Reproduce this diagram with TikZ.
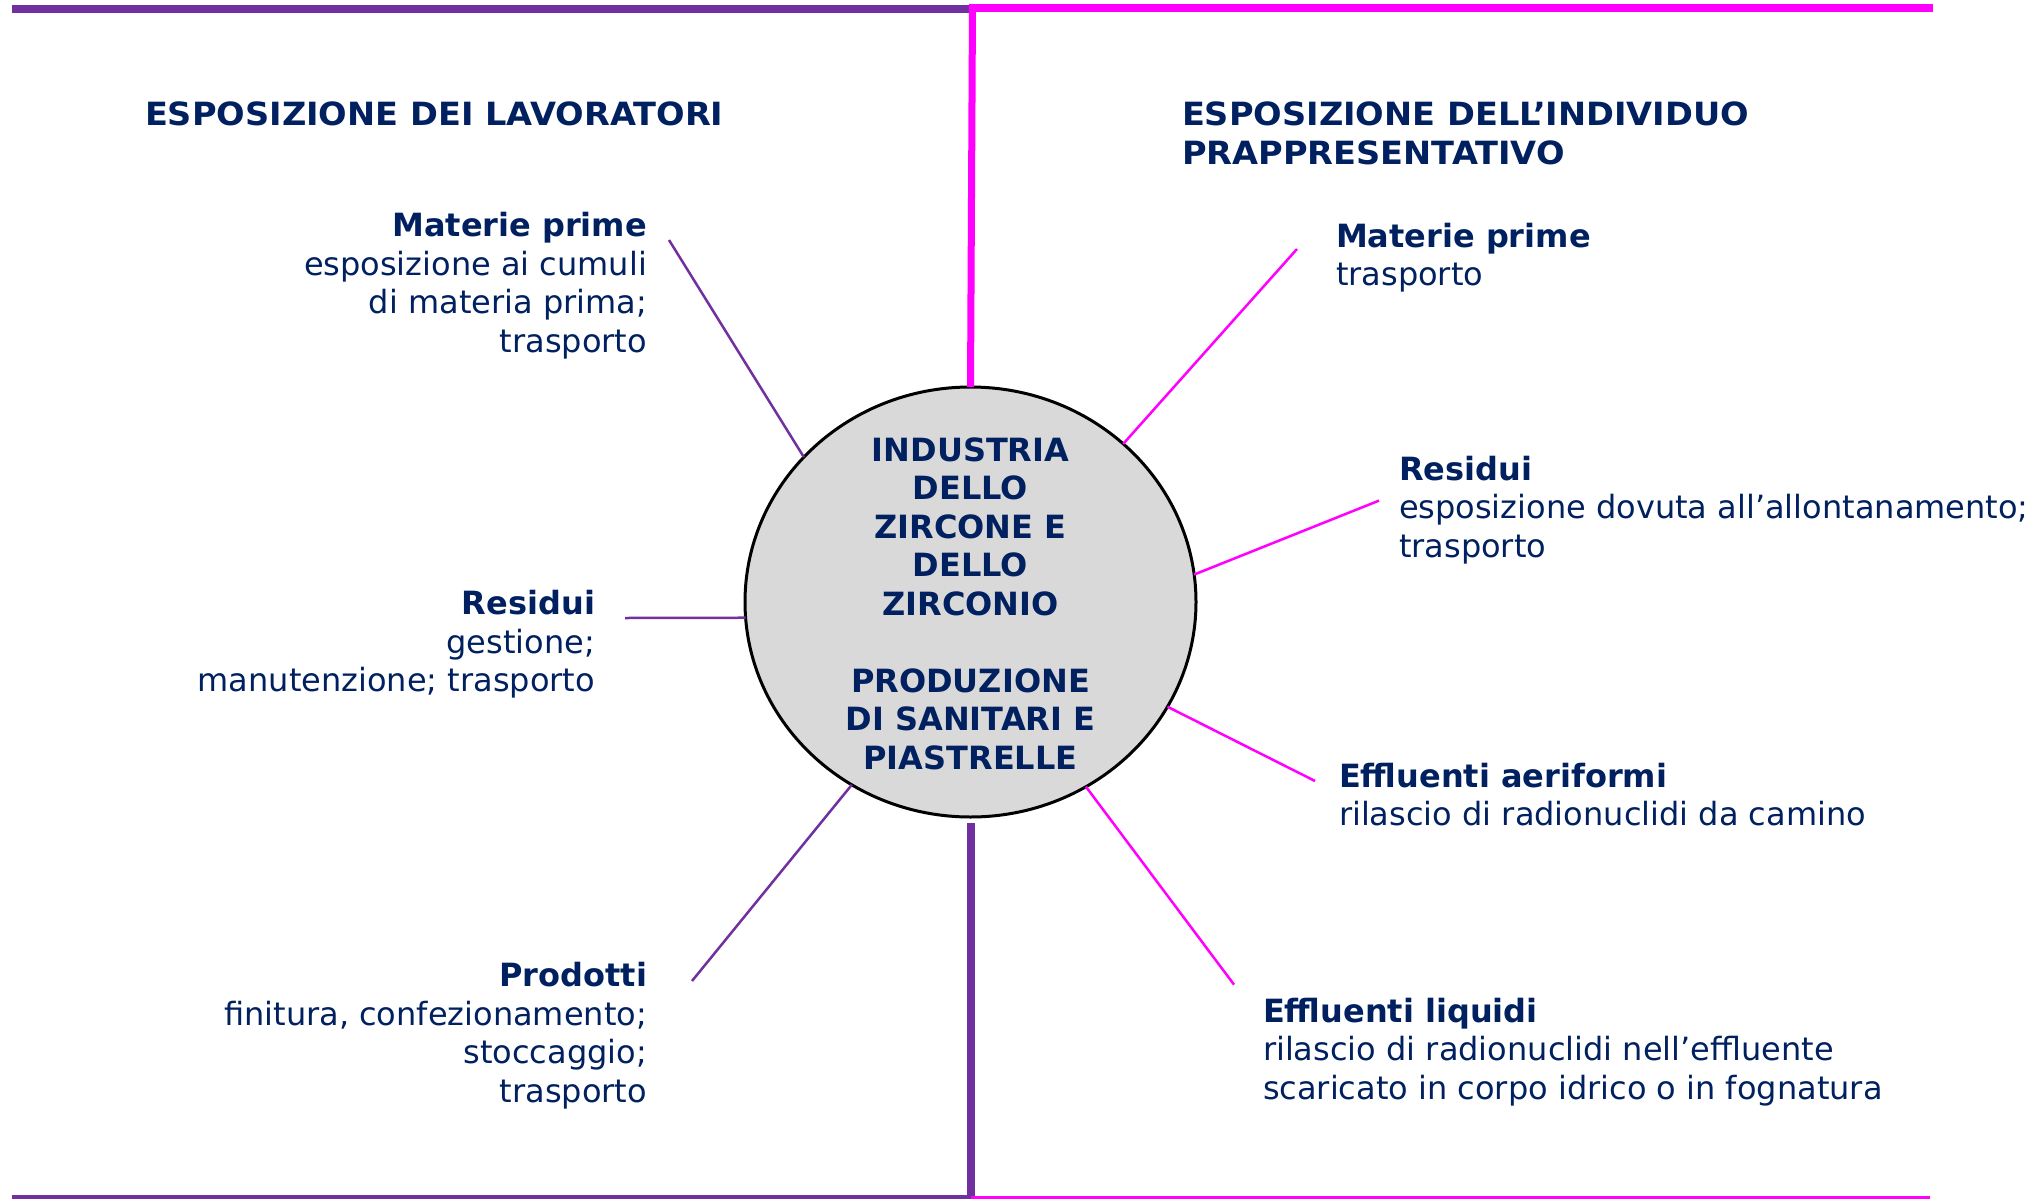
\documentclass[tikz,border=0pt]{standalone}
\usepackage{fontspec}
\setmainfont{DejaVu Sans}
\newfontfamily\hdfont[FakeStretch=1.05]{DejaVu Sans Bold}
\usetikzlibrary{shapes.geometric}
\definecolor{txt}{HTML}{002060}
\definecolor{lav}{HTML}{7030A0}
\definecolor{mag}{HTML}{FF00FF}
\definecolor{circfill}{HTML}{D9D9D9}
\begin{document}
\begin{tikzpicture}[x=1pt,y=-1pt,
  lbl/.style={inner sep=0pt, outer sep=0pt, text=txt, font=\fontsize{32}{38.5}\selectfont},
  lft/.style={lbl, align=right, anchor=base east},
  rgt/.style={lbl, align=left, anchor=base west},
  hd/.style={lbl, align=left, anchor=base west, font=\hdfont\fontsize{32}{38.5}\selectfont},
  lconn/.style={draw=lav, line width=2.5pt},
  rconn/.style={draw=mag, line width=2.5pt},
  frame/.style={line cap=butt}]
\useasboundingbox (0,0) rectangle (2044,1199);

% central ellipse
\node[ellipse, draw=black, line width=3pt, fill=circfill, minimum width=451pt, minimum height=430pt, inner sep=0pt, outer sep=0pt] (circ) at (970.5,602) {};
% anchor=base is the baseline of the last line
\node[lbl, align=center, anchor=base, font=\bfseries\fontsize{32}{38.5}\selectfont] (circtext) at (970.5,769)
  {INDUSTRIA\\DELLO\\ZIRCONE E\\DELLO\\ZIRCONIO\\[38.5pt]PRODUZIONE\\DI SANITARI E\\PIASTRELLE};

% frame coordinates
\coordinate (tl) at (12,9);
\coordinate (tm) at (969,9);
\coordinate (tm2) at (969,8.5);
\coordinate (tr) at (1933,8.5);
\coordinate (vt) at (972.5,4);
\coordinate (vb) at (971,823);
\coordinate (vbb) at (971,1199);
\coordinate (bl) at (12,1197);
\coordinate (bm) at (971,1197);
\coordinate (bm2) at (971,1197.5);
\coordinate (br) at (1930,1197.5);

\draw[frame, lav, line width=8pt] (tl) -- (tm);
\draw[frame, mag, line width=8pt] (tm2) -- (tr);
\draw[frame, mag, line width=7pt] (vt) -- (circ.north);
\draw[frame, lav, line width=8pt] (vb) -- (vbb);
\draw[frame, lav, line width=4pt] (bl) -- (bm);
\draw[frame, mag, line width=3pt] (bm2) -- (br);

% headings (base = last line)
\node[hd] (hleft) at (145,125.5) {ESPOSIZIONE DEI LAVORATORI};
\node[hd] (hright) at (1182,164) {ESPOSIZIONE DELL’INDIVIDUO\\PRAPPRESENTATIVO};

% left labels
\node[lft] (lmat) at (647,352) {\textbf{Materie prime}\\esposizione ai cumuli\\di materia prima;\\trasporto};
\node[lft] (lres) at (595,691.5) {\textbf{Residui}\\gestione;\\manutenzione; trasporto};
\node[lft] (lprod) at (647,1102) {\textbf{Prodotti}\\finitura, confezionamento;\\stoccaggio;\\trasporto};

% right labels
\node[rgt] (rmat) at (1336,285.5) {\textbf{Materie prime}\\trasporto};
\node[rgt] (rres) at (1399,557) {\textbf{Residui}\\esposizione dovuta all’allontanamento;\\trasporto};
\node[rgt] (raer) at (1339,825.5) {\textbf{Effluenti aeriformi}\\rilascio di radionuclidi da camino};
\node[rgt] (rliq) at (1263,1099) {\textbf{Effluenti liquidi}\\rilascio di radionuclidi nell’effluente\\scaricato in corpo idrico o in fognatura};

% connector free ends
\coordinate (clm) at (669,240);
\coordinate (clr) at (625,618);
\coordinate (clp) at (692,981);
\coordinate (crm) at (1297,249);
\coordinate (crr) at (1379,500.6);
\coordinate (cra) at (1315,781);
\coordinate (crl) at (1234,984.6);

\draw[lconn] (clm) -- (circ.139.8);
\draw[lconn] (clr) -- (circ.184.1);
\draw[lconn] (clp) -- (circ.237.1);
\draw[rconn] (crm) -- (circ.46.9);
\draw[rconn] (crr) -- (circ.7.6);
\draw[rconn] (cra) -- (circ.332.1);
\draw[rconn] (crl) -- (circ.302.8);
\end{tikzpicture}
\end{document}
